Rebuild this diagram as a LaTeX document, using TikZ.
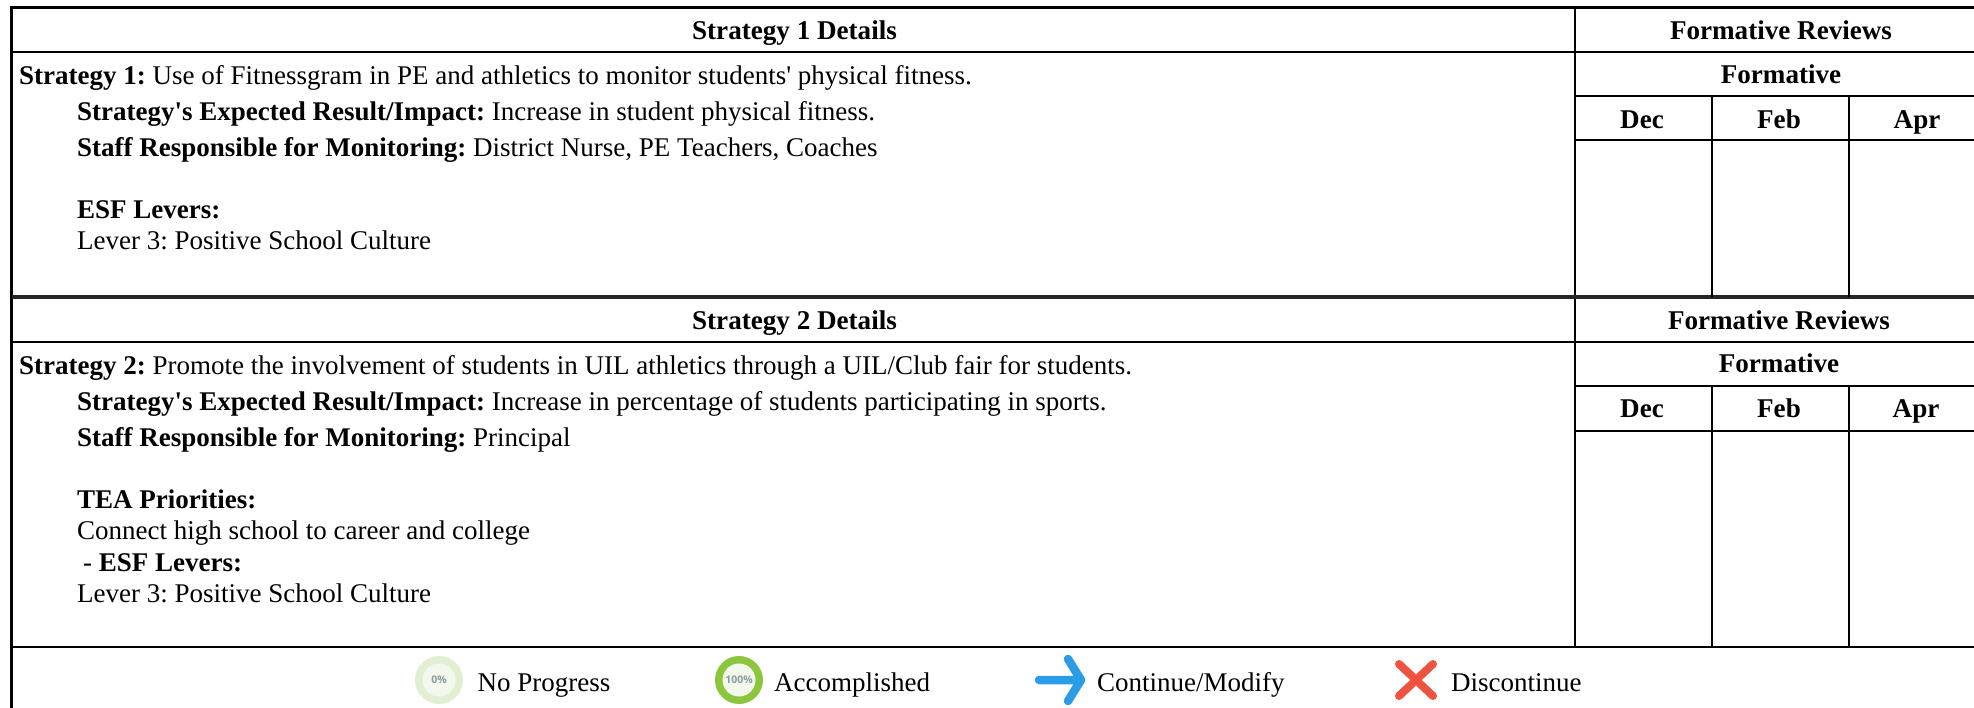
\documentclass[tikz,border=0pt]{standalone}
\usepackage{fontspec}
\setmainfont{Liberation Serif}
\newfontfamily\legendsans{Open Sans}
\frenchspacing
\definecolor{ringlight}{HTML}{E2EFD3}
\definecolor{ringgreen}{HTML}{8CC63F}
\definecolor{innerlight}{HTML}{F3F8EC}
\definecolor{pctgray}{HTML}{8A9AA0}
\definecolor{arrowblue}{HTML}{2B9CE8}
\definecolor{crossred}{HTML}{EE5340}
\tikzset{
  rule/.style={draw=black,line width=2.2pt},
  heavyrule/.style={draw=black!85,line width=3.8pt},
  txt/.style={anchor=base west,inner sep=0pt,font=\fontsize{27}{32}\selectfont},
  ctr/.style={anchor=base,inner sep=0pt,font=\fontsize{27.1}{32}\selectfont\bfseries},
  pct/.style={inner sep=0pt,text=pctgray,font=\legendsans\fontsize{10.5}{12}\selectfont}
}
\begin{document}
\begin{tikzpicture}[x=1pt,y=-1pt]
\useasboundingbox[fill=white] (0,0) rectangle (1974,708);
% rules
\draw[rule] (1974,7.5) -- (11.5,7.5) -- (11.5,708);
\draw[rule] (1575,7.5) -- (1575,647);
\foreach \yy in {52,342,647} \draw[rule] (11.5,\yy) -- (1974,\yy);
\foreach \yy in {96,140,386,431} \draw[rule] (1575,\yy) -- (1974,\yy);
\draw[heavyrule] (11.5,297) -- (1974,297);
\foreach \xx in {1712,1849} {
  \draw[rule] (\xx,96) -- (\xx,297);
  \draw[rule] (\xx,386) -- (\xx,647);
}
% block 1
\node[ctr] (h1) at (794.5,40) {Strategy 1 Details};
\node[ctr] (fr1) at (1781,40) {Formative Reviews};
\node[ctr] (f1) at (1781,84) {Formative};
\node[ctr] (d1) at (1642,129) {Dec};
\node[ctr] (b1) at (1779,129) {Feb};
\node[ctr] (a1) at (1917,129) {Apr};
\node[txt] (s1) at (19,85) {\textbf{Strategy 1:} Use of Fitnessgram in PE and athletics to monitor students\textquotesingle{} physical fitness.};
\node[txt] (e1) at (77,121) {\textbf{Strategy\textquotesingle{}s Expected Result/Impact:} Increase in student physical fitness.};
\node[txt] (r1) at (77,157) {\textbf{Staff Responsible for Monitoring:} District Nurse, PE Teachers, Coaches};
\node[txt] (l1) at (77,219) {\textbf{ESF Levers:}};
\node[txt] (v1) at (77,250) {Lever 3: Positive School Culture};
% block 2
\node[ctr] (h2) at (794.5,330) {Strategy 2 Details};
\node[ctr] (fr2) at (1779,330) {Formative Reviews};
\node[ctr] (f2) at (1779,373) {Formative};
\node[ctr] (d2) at (1642,418) {Dec};
\node[ctr] (b2) at (1779,418) {Feb};
\node[ctr] (a2) at (1916,418) {Apr};
\node[txt] (s2) at (19,375) {\textbf{Strategy 2:} Promote the involvement of students in UIL athletics through a UIL/Club fair for students.};
\node[txt] (e2) at (77,411) {\textbf{Strategy\textquotesingle{}s Expected Result/Impact:} Increase in percentage of students participating in sports.};
\node[txt] (r2) at (77,447) {\textbf{Staff Responsible for Monitoring:} Principal};
\node[txt] (t2) at (77,508) {\textbf{TEA Priorities:}};
\node[txt] (c2) at (77,539) {Connect high school to career and college};
\node[txt] (l2) at (77,571) {\hspace*{6pt}- \textbf{ESF Levers:}};
\node[txt] (v2) at (77,602) {Lever 3: Positive School Culture};
% legend
\fill[ringlight] (439,680) circle (24);
\fill[innerlight] (439,680) circle (16.5);
\node[pct] (p0) at (439,680) {\textbf{0\%}};
\node[txt] (n0) at (477.5,691) {No Progress};
\fill[ringgreen] (739,680) circle (24);
\fill[innerlight] (739,680) circle (16.5);
\node[pct] (p100) at (739,680) {\textbf{100\%}};
\node[txt] (n100) at (774,691) {Accomplished};
\draw[arrowblue,line width=8.5pt,line cap=round,line join=round] (1039,680) -- (1081,680) (1068,659) -- (1081,680) -- (1068,701);
\node[txt] (nc) at (1097,691) {Continue/Modify};
\draw[crossred,line width=8pt,line cap=round] (1399,664) -- (1433,696) (1433,664) -- (1399,696);
\node[txt] (nd) at (1451,691) {Discontinue};
\end{tikzpicture}
\end{document}
